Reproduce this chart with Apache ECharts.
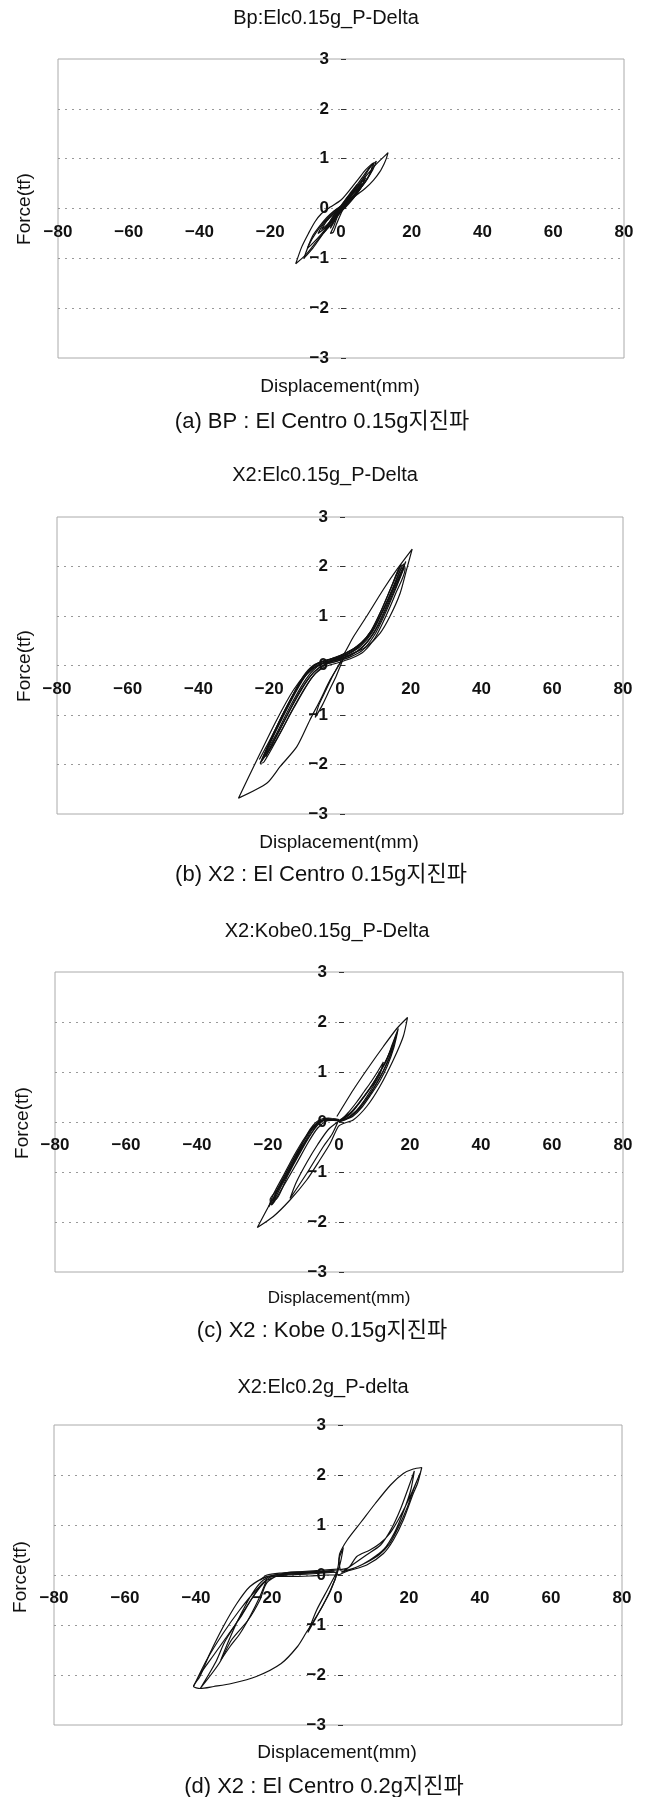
<!DOCTYPE html>
<html>
<head>
<meta charset="utf-8">
<title>P-Delta hysteresis</title>
<script src="https://cdn.jsdelivr.net/npm/echarts@6/dist/echarts.min.js"></script>
<style>
html, body { margin: 0; padding: 0; background: #fff; }
#chart { width: 648px; height: 1797px; }
</style>
</head>
<body>
<div id="chart"></div>
<script>
// axis ranges (tick labels -80..80 step 20, -3..3 step 1)
var xMin = -80, xMax = 80, xStep = 20;
var yMin = -3, yMax = 3, yStep = 1;

var panelTitles = ['Bp:Elc0.15g_P-Delta', 'X2:Elc0.15g_P-Delta', 'X2:Kobe0.15g_P-Delta', 'X2:Elc0.2g_P-delta'];
var captions = ['(a) BP : El Centro 0.15g지진파', '(b) X2 : El Centro 0.15g지진파', '(c) X2 : Kobe 0.15g지진파', '(d) X2 : El Centro 0.2g지진파'];
var xName = 'Displacement(mm)';
var yName = 'Force(tf)';

// (a) Bp : El Centro 0.15g  [displacement mm, force tf]
var aLoop1 = [[0,0],[2,0.18],[4,0.33],[5.5,0.45],[4,0.28],[2,0.12],[0,-0.02],[-2,-0.18],[-4,-0.33],[-5.5,-0.42],[-4,-0.25],[-2,-0.1],[0,0.03]];
var aLoop2 = [[0,0.03],[2.5,0.25],[5,0.42],[6.5,0.52],[5,0.35],[2.5,0.15],[0,-0.05],[-2.5,-0.25],[-5,-0.42],[-6.5,-0.5],[-5,-0.32],[-2.5,-0.12],[0,0.05]];
var aLoop3 = [[0,0.05],[1.5,0.2],[3,0.3],[1.5,0.12],[0,0],[-1.5,-0.15],[-3,-0.28],[-1.5,-0.08],[0,0.02],[1,0.12],[3.5,0.36],[6,0.5],[4.5,0.3],[2,0.08],[-0.5,-0.1],[-3,-0.3],[-4.5,-0.45],[-3.5,-0.3],[-1,-0.05],[0.5,0.08]];
var aBig = [[0.5,0.08],[2,0.2],[4,0.38],[6,0.56],[8,0.73],[10.1,0.9],[12,1.03],[13.3,1.12],[12.8,1.0],[12.2,0.9],[11,0.74],[9.2,0.57],[6.8,0.4],[4.4,0.27],[2,0.12],[0,-0.02],[-2,-0.2],[-4,-0.4],[-6,-0.58],[-8,-0.76],[-10,-0.93],[-12.8,-1.11],[-11.1,-0.77],[-9.2,-0.5],[-7.4,-0.27],[-5.5,-0.1],[-3,0.03],[0,0.17],[3,0.42],[5,0.6],[7,0.78],[9,0.91],[8.4,0.74],[7,0.56],[5,0.38],[3,0.22],[0,0]];
var aLoop4 = [[0,0],[2,0.2],[4,0.42],[6,0.62],[8,0.82],[9.3,0.92],[8.8,0.78],[7.5,0.6],[6,0.45],[4,0.3],[2,0.15],[0,0],[-2,-0.2],[-4,-0.38],[-6,-0.55],[-8,-0.7],[-9.5,-0.8],[-8,-0.55],[-6,-0.35],[-4,-0.18],[-2,-0.05],[0,0.05],[-1,-0.15],[-2,-0.35],[-3,-0.5],[-2.2,-0.48],[-1.2,-0.3],[0,-0.1],[1,0.05]];
var aLoop5 = [[1,0.05],[3,0.28],[5,0.45],[7,0.62],[5.5,0.4],[3.5,0.22],[1,0.02],[-1.5,-0.2],[-3.5,-0.38],[-5,-0.5],[-3.5,-0.32],[-1.5,-0.12],[0.5,0.1],[2.5,0.3],[4.5,0.48],[3,0.26],[1,0.06],[-1,-0.1],[-2.5,-0.22],[-4,-0.38],[-2.5,-0.18],[0,0.06],[2,0.24],[4,0.4],[2.5,0.2],[0.5,0.0],[-1.5,-0.22],[-3,-0.4],[-2,-0.2],[0,0.02]];
var aLoop6 = [[0,0.02],[3,0.3],[6,0.58],[8.5,0.85],[10,0.95],[9,0.78],[7,0.55],[5,0.36],[3,0.2],[0,0],[-3,-0.3],[-6,-0.6],[-8,-0.8],[-10.5,-1.0],[-9,-0.72],[-7,-0.48],[-4.5,-0.25],[-2,-0.06],[0,0.04]];

// (b) X2 : El Centro 0.15g
var bBand1 = [[-22.1,-1.91],[-17.9,-1.37],[-14.1,-0.83],[-10.4,-0.36],[-7.5,-0.09],[-4.7,0.04],[-0.9,0.11],[2.8,0.21],[6.1,0.35],[9.4,0.65],[12.2,1.05],[15.1,1.53],[17.9,2.0],[17.4,2.03],[14.5,1.58],[11.6,1.1],[8.8,0.7],[5.5,0.42],[2.2,0.27],[-1.5,0.15],[-5.2,0.07],[-8.2,-0.06],[-11.1,-0.33],[-14.8,-0.8],[-18.6,-1.34],[-22.6,-1.98]];
var bBand2 = [[-22.6,-1.98],[-21.5,-1.95],[-17.3,-1.42],[-13.5,-0.9],[-9.8,-0.44],[-6.9,-0.16],[-4,-0.02],[-0.3,0.06],[3.4,0.15],[6.7,0.28],[10,0.57],[12.8,0.97],[15.7,1.45],[18.4,1.95],[18,2.05],[15.4,1.62],[12.6,1.18],[9.7,0.76],[6.6,0.48],[3,0.3],[-0.5,0.18],[-4.2,0.1],[-7.6,0],[-10.6,-0.24],[-14,-0.7],[-17.6,-1.22],[-22,-1.9]];
var bBand3 = [[-22,-1.9],[-19.5,-1.62],[-15.5,-1.08],[-12,-0.6],[-8.8,-0.25],[-6,-0.05],[-2.5,0.08],[1,0.15],[4.5,0.27],[8,0.5],[11,0.83],[14,1.3],[17,1.8],[18.6,2.1],[16.5,1.78],[13.6,1.33],[10.6,0.9],[7.6,0.58],[4.2,0.36],[0.6,0.22],[-3,0.12],[-6.4,0.04],[-9.2,-0.15],[-12.6,-0.55],[-16.2,-1.05],[-20,-1.6],[-22.3,-1.95]];
var bBand4 = [[-21,-1.85],[-17,-1.3],[-13.8,-0.86],[-10.1,-0.4],[-7.2,-0.12],[-4.3,0.02],[-0.6,0.09],[3.1,0.18],[6.4,0.31],[9.7,0.61],[12.5,1.01],[15.4,1.49],[18.1,1.97],[17.2,1.95],[14.8,1.55],[11.9,1.07],[9.1,0.67],[5.8,0.39],[2.5,0.24],[-1.2,0.13],[-4.9,0.05],[-7.9,-0.08],[-10.8,-0.3],[-14.4,-0.75],[-18.1,-1.28],[-21.8,-1.87]];
var bBand5 = [[-22.8,-1.9],[-18.5,-1.33],[-14.7,-0.78],[-11,-0.3],[-8,-0.04],[-5.2,0.08],[-1.4,0.14],[2.2,0.24],[5.5,0.4],[8.8,0.7],[11.6,1.1],[14.5,1.58],[17.3,2.03],[16.9,2.0],[14.1,1.52],[11.2,1.04],[8.3,0.64],[5,0.36],[1.7,0.21],[-2,0.1],[-5.8,0.02],[-8.8,-0.12],[-11.7,-0.4],[-15.3,-0.86],[-19.2,-1.42],[-22.8,-1.9]];
var bOuter = [[-22.3,-1.95],[-18,-1.5],[-13,-0.85],[-8,-0.25],[-4,0.02],[0,0.12],[3.8,0.58],[7.5,0.99],[12.2,1.53],[16,1.93],[20.4,2.35],[18.8,1.93],[17,1.46],[14.1,0.99],[11.3,0.65],[7.5,0.38],[3.8,0.25],[0.5,0.14],[0,0.04],[-2.8,-0.29],[-5.6,-0.7],[-8.5,-1.1],[-12.2,-1.64],[-16.9,-2.04],[-20.7,-2.38],[-28.7,-2.68],[-23.5,-1.91],[-17.9,-1.1],[-13.2,-0.5],[-9.4,-0.16],[-5.6,0.03],[-2,0.1],[0,0.15]];
var bLens = [[0,0.15],[1,0.15],[-1,-0.2],[-3,-0.5],[-5,-0.8],[-7,-1.05],[-6,-0.8],[-4,-0.5],[-2,-0.2],[0,0.05],[2,0.2]];

// (c) X2 : Kobe 0.15g
var cOuter = [[-0.6,0.11],[4,0.64],[7.8,1.04],[12.5,1.51],[16.3,1.87],[19.3,2.09],[18.1,1.71],[15.3,1.24],[11.5,0.71],[7.8,0.31],[4,0.04],[1.2,-0.03],[-0.2,-0.09],[-2.5,-0.43],[-5.4,-0.76],[-9.1,-1.16],[-13.8,-1.56],[-18.5,-1.89],[-23,-2.11],[-19.4,-1.63],[-14.7,-1.03],[-11,-0.56],[-7.2,-0.16],[-5.4,0.04],[-3,0.08],[0,0.05]];
var cLens = [[0,0.05],[-2,-0.25],[-4.4,-0.49],[-9.1,-1.03],[-13.8,-1.53],[-12,-1.2],[-9,-0.8],[-6,-0.45],[-3,-0.15],[0,0.02]];
var cBandL = [[0,0.02],[-3.5,0.07],[-6.3,-0.03],[-9.1,-0.29],[-12.9,-0.76],[-17.5,-1.36],[-19.4,-1.55],[-19,-1.66],[-16.8,-1.42],[-12.2,-0.86],[-8.6,-0.4],[-6,-0.12],[-3.5,0.02],[-1,0.04],[-3,0.05],[-6,0.02],[-8.8,-0.22],[-12,-0.7],[-16,-1.25],[-19,-1.66],[-17,-1.3],[-13.5,-0.82],[-10,-0.38],[-7,-0.08],[-4,0.04],[0,0.02]];
var cBandL2 = [[0,0.03],[-3,0.06],[-5.5,-0.02],[-8,-0.25],[-11.5,-0.65],[-15,-1.1],[-18.2,-1.5],[-17.8,-1.55],[-14.5,-1.08],[-11,-0.62],[-7.5,-0.2],[-5,0.0],[-2,0.04],[0,0.03]];
var cBandL3 = [[0,0.04],[-2.5,0.06],[-5,0.02],[-7.5,-0.15],[-10.5,-0.5],[-14,-0.95],[-17,-1.35],[-19.8,-1.7],[-18.5,-1.45],[-15.5,-1.05],[-12.5,-0.65],[-9.5,-0.3],[-6.5,-0.05],[-3.5,0.05],[0,0.04]];
var cBandR = [[0,0.02],[3,0.15],[5,0.31],[7.5,0.55],[9.7,0.77],[11.5,1.0],[13.4,1.24],[15,1.55],[16.7,1.87],[15.5,1.5],[13.6,1.12],[11.5,0.82],[9,0.55],[6.5,0.3],[4,0.12],[2,0.05],[0,0],[2.5,0.18],[5,0.4],[7,0.6],[9,0.8],[11,1.02],[12.5,1.2],[11.5,0.95],[9.5,0.7],[7,0.42],[4.5,0.2],[2,0.06],[0,0]];
var cBandR2 = [[0,0.03],[3.5,0.2],[6,0.42],[8.5,0.66],[10.5,0.88],[12.8,1.15],[14.5,1.42],[16,1.7],[14.6,1.36],[12.5,1.02],[10.2,0.72],[7.8,0.46],[5,0.22],[2,0.06],[0,0.03]];
var cBandR3 = [[0,0.01],[2,0.1],[4.5,0.28],[7,0.5],[9.2,0.72],[11,0.93],[13,1.2],[14.8,1.48],[16.3,1.78],[15,1.45],[13,1.1],[10.8,0.8],[8.3,0.52],[5.8,0.28],[3,0.1],[0,0.01]];

// (d) X2 : El Centro 0.2g
var dOuter = [[0.2,0],[-1.3,0.06],[-5,0.05],[-10.7,0.03],[-15,0.01],[-20.1,-0.03],[-24.8,-0.23],[-28.5,-0.57],[-32.3,-1.03],[-36.1,-1.57],[-38.9,-2.03],[-40.7,-2.23],[-38.8,-2.27],[-35,-2.23],[-30,-2.17],[-23,-2.03],[-16,-1.77],[-11.4,-1.43],[-9.1,-1.17],[-4.4,-0.63],[-0.9,-0.1],[0.1,0.2],[0.5,0.43],[2.6,0.7],[6.5,1.06],[10.5,1.43],[14.8,1.8],[18.4,2.03],[21.2,2.12],[23.6,2.15],[22.4,1.83],[21.2,1.63],[18.4,1.1],[15.6,0.7],[12.8,0.43],[8.1,0.2],[2.4,0.07],[0.2,0]];
var dLeft1 = [[0.2,0],[-3,0],[-8,-0.02],[-14,-0.03],[-18.4,-0.03],[-23,-0.3],[-27.7,-0.7],[-32.4,-1.17],[-37,-1.7],[-40.7,-2.23],[-39,-2],[-35,-1.6],[-31,-1.2],[-27.5,-0.85],[-24.5,-0.5],[-22,-0.25],[-20,-0.08],[-22,-0.43],[-24.8,-0.83],[-27.6,-1.17],[-30.4,-1.43],[-33,-1.7],[-31,-1.35],[-28.5,-0.95],[-26,-0.6],[-23.5,-0.3],[-21,-0.1],[-18,0],[-12,0.05],[-6,0.07],[-1,0.08]];
var dLeft2 = [[-1,0.08],[-8,0.04],[-16,0],[-21,-0.15],[-25,-0.55],[-29,-1.0],[-32,-1.35],[-34.5,-1.75],[-38.8,-2.27],[-33.5,-1.77],[-30,-1.3],[-25.3,-0.9],[-22,-0.5],[-20,-0.15],[-15,0.04],[-8,0.06],[0,0.1]];
var dPlat = [[0,0.12],[-4,0.1],[-10,0.07],[-16,0.04],[-20,0],[-22,-0.1],[-20,-0.04],[-14,0],[-8,0.02],[-2,0.05],[0,0.06]];
var dRight = [[0,0.1],[3,0.15],[5.3,0.37],[9,0.5],[11.8,0.63],[14.6,0.83],[17.5,1.17],[20.3,1.57],[23.1,2.03],[21.5,1.75],[19.5,1.35],[17,0.95],[14.5,0.62],[11.5,0.4],[8,0.25],[4,0.12],[1,0.05],[4,0.2],[8,0.4],[12,0.6],[15,0.92],[17.5,1.3],[20,1.78],[21.5,2.08],[20.5,1.7],[18.5,1.28],[16,0.86],[13,0.52],[9,0.3],[5,0.15],[1,0.08],[0.3,0.3],[1.5,0.55],[0.5,0.2],[-2,-0.3],[-5,-0.7],[-8.5,-1.15],[-6,-0.7],[-3,-0.3],[0,0.1]];

var curves = [
  [aLoop1, aLoop2, aLoop3, aBig, aLoop4, aLoop5, aLoop6],
  [bBand1, bBand2, bBand3, bBand4, bBand5, bOuter, bLens],
  [cOuter, cLens, cBandL, cBandL2, cBandL3, cBandR, cBandR2, cBandR3],
  [dOuter, dLeft1, dLeft2, dPlat, dRight]
];

// layout of each panel (pixels)
var layout = [
  { grid: { left: 58, top: 59, width: 566, height: 299 }, title: [326, 18], name: [340, 387], cap: [322, 422], force: [25, 209], nameSize: 19 },
  { grid: { left: 57, top: 517, width: 566, height: 297 }, title: [325, 475], name: [339, 843], cap: [321, 875], force: [25, 666], nameSize: 19 },
  { grid: { left: 55, top: 972, width: 568, height: 300 }, title: [327, 931], name: [339, 1298], cap: [322, 1331], force: [23, 1123], nameSize: 17 },
  { grid: { left: 54, top: 1425, width: 568, height: 300 }, title: [323, 1387], name: [337, 1753], cap: [324, 1787], force: [21, 1577], nameSize: 19 }
];

var latin = "'Liberation Sans', Arial, sans-serif";
var mixed = "'Liberation Sans', 'Noto Sans CJK KR', sans-serif";
function minus(v) { return String(v).replace('-', '\u2212'); }

var grids = [], xAxes = [], yAxes = [], series = [], texts = [];

layout.forEach(function (p, i) {
  var g = p.grid;
  grids.push(Object.assign({ show: true, borderColor: '#aaa', borderWidth: 1, backgroundColor: 'transparent' }, g));
  // axes cross at the data origin: shift them inward from the grid edge
  var xShift = -(0 - yMin) / (yMax - yMin) * g.height;
  var yShift = -(0 - xMin) / (xMax - xMin) * g.width;
  xAxes.push({
    type: 'value', gridIndex: i, min: xMin, max: xMax, interval: xStep,
    position: 'bottom', offset: xShift,
    axisLine: { show: false, onZero: false },
    axisTick: { show: false },
    axisLabel: { margin: 15, fontSize: 17, fontWeight: 'bold', color: '#111', fontFamily: latin, formatter: minus },
    splitLine: { show: false }
  });
  yAxes.push({
    type: 'value', gridIndex: i, min: yMin, max: yMax, interval: yStep,
    position: 'left', offset: yShift,
    axisLine: { show: false, onZero: false },
    axisTick: { show: true, inside: true, length: 5, lineStyle: { color: '#333' } },
    axisLabel: { margin: 12, fontSize: 17, fontWeight: 'bold', color: '#111', fontFamily: latin, formatter: minus },
    splitLine: { show: true, showMinLine: false, showMaxLine: false, lineStyle: { color: '#999', width: 1, type: [2, 5] } }
  });
  curves[i].forEach(function (c) {
    series.push({
      type: 'line', xAxisIndex: i, yAxisIndex: i, data: c,
      showSymbol: false, smooth: 0.25, silent: true,
      lineStyle: { color: '#111', width: 1.2 }
    });
  });
  texts.push(
    { type: 'text', x: p.title[0], y: p.title[1], style: { text: panelTitles[i], fontSize: 20, fontFamily: latin, fill: '#111', align: 'center', verticalAlign: 'middle' } },
    { type: 'text', x: p.name[0], y: p.name[1], style: { text: xName, fontSize: p.nameSize, fontFamily: latin, fill: '#111', align: 'center', verticalAlign: 'middle' } },
    { type: 'text', x: p.cap[0], y: p.cap[1], style: { text: captions[i], fontSize: 22, fontFamily: mixed, fill: '#111', align: 'center', verticalAlign: 'middle' } },
    { type: 'text', x: p.force[0], y: p.force[1], rotation: Math.PI / 2, style: { text: yName, fontSize: 19, fontFamily: latin, fill: '#111', align: 'center', verticalAlign: 'middle' } }
  );
});

var myChart = echarts.init(document.getElementById('chart'));
myChart.setOption({
  animation: false,
  backgroundColor: '#fff',
  grid: grids,
  xAxis: xAxes,
  yAxis: yAxes,
  series: series,
  graphic: { elements: texts }
});
</script>
</body>
</html>
